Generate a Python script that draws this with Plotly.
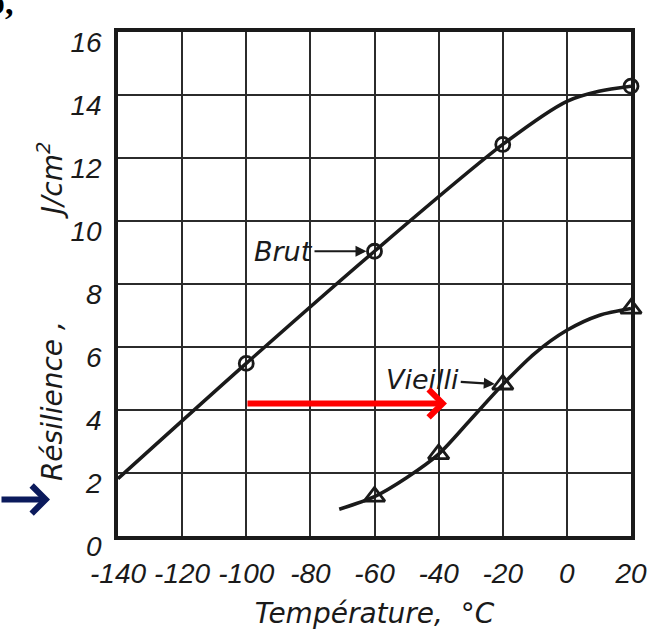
import plotly.graph_objects as go

# ---- data ----
brut_temp = [-140, -100, -60, -20, 0, 10, 20]
brut_res = [1.82, 5.48, 9.04, 12.43, 13.8, 14.12, 14.28]
brut_pts_temp = [-100, -60, -20, 20]
brut_pts_res = [5.48, 9.04, 12.43, 14.28]

vieilli_temp = [-71, -60, -50, -40, -30, -20, -10, 0, 10, 20]
vieilli_res = [0.85, 1.25, 1.85, 2.6, 3.7, 4.81, 5.8, 6.53, 7.0, 7.22]
vieilli_pts_temp = [-60, -40, -20, 20]
vieilli_pts_res = [1.25, 2.6, 4.81, 7.22]

x_tick_vals = [-140, -120, -100, -80, -60, -40, -20, 0, 20]
x_tick_text = ["-140", "-120", "-100", "-80", "-60", "-40", "-20", "0", "20"]
y_tick_vals = [0, 2, 4, 6, 8, 10, 12, 14, 16]
y_tick_text = ["0", "2", "4", "6", "8", "10", "12", "14", "16"]

INK = "#1a1a1a"
TICKFONT = dict(family="Liberation Sans", size=28, color=INK, style="italic")
TXTFONT = dict(family="DejaVu Sans", size=27, color=INK, style="italic")

fig = go.Figure()
fig.add_trace(go.Scatter(x=brut_temp, y=brut_res, mode="lines",
                         line=dict(color=INK, width=3.5, shape="spline", smoothing=0.8),
                         hoverinfo="skip"))
fig.add_trace(go.Scatter(x=brut_pts_temp, y=brut_pts_res, mode="markers", cliponaxis=False,
                         marker=dict(symbol="circle-open", size=14, color=INK, line=dict(width=2.8))))
fig.add_trace(go.Scatter(x=vieilli_temp, y=vieilli_res, mode="lines",
                         line=dict(color=INK, width=3.5, shape="spline", smoothing=0.8),
                         hoverinfo="skip"))
fig.add_trace(go.Scatter(x=vieilli_pts_temp, y=vieilli_pts_res, mode="markers", cliponaxis=False,
                         marker=dict(symbol="triangle-up-open", size=18, color=INK, line=dict(width=2.8))))

fig.update_layout(
    width=668, height=637,
    margin=dict(l=118, r=37, t=32, b=94),
    paper_bgcolor="white", plot_bgcolor="white",
    showlegend=False,
)
fig.update_xaxes(
    range=[-140, 20], tickvals=x_tick_vals, ticktext=x_tick_text,
    showgrid=True, gridcolor="#2b2b2b", gridwidth=1.6, zeroline=False,
    showline=True, linecolor=INK, linewidth=3.5, mirror=True, ticks="",
    tickfont=TICKFONT, ticklabelstandoff=10,
    title=dict(text="Température,  °C", font=dict(family="DejaVu Sans", size=28, color=INK, style="italic"),
               standoff=16),
)
fig.update_yaxes(
    range=[0, 16], tickvals=y_tick_vals, ticktext=y_tick_text,
    showgrid=True, gridcolor="#2b2b2b", gridwidth=1.6, zeroline=False,
    showline=True, linecolor=INK, linewidth=3.5, mirror=True, ticks="",
    tickfont=TICKFONT, ticklabelstandoff=7, ticklabelshift=10,
)

NB = "\u00a0"
annotations = [
    dict(x=-60, y=9.04, xref="x", yref="y", text="Brut", showarrow=True,
         ax=-91, ay=0, arrowhead=2, arrowsize=1, arrowwidth=2.2, arrowcolor=INK,
         standoff=8, font=TXTFONT),
    dict(x=-20, y=4.81, xref="x", yref="y", text="Vieilli", showarrow=True,
         ax=-80, ay=-5, arrowhead=2, arrowsize=1, arrowwidth=2.2, arrowcolor=INK,
         standoff=8, font=TXTFONT),
    dict(x=-37.4, y=4.21, xref="x", yref="y", text="", showarrow=True,
         ax=-201, ay=0, arrowhead=4, arrowsize=0.9, arrowwidth=6, arrowcolor="#ff0000"),
    dict(x=(50 - 118) / 513, y=(543 - 506) / 511, xref="paper", yref="paper", text="",
         showarrow=True, ax=-54, ay=0, arrowhead=4, arrowsize=0.9, arrowwidth=6,
         arrowcolor="#0b1a5c"),
    dict(x=(50 - 118) / 513, y=(543 - 315) / 511, xref="paper", yref="paper",
         xanchor="center", yanchor="middle",
         text="Résilience ," + NB * 12 + "J/cm<sup>2</sup>", textangle=-90, showarrow=False,
         font=dict(family="DejaVu Sans", size=28, color=INK, style="italic")),
    dict(x=(15 - 118) / 513, y=(543 - 2) / 511, xref="paper", yref="paper",
         text="<b>b,</b>", showarrow=False, xanchor="right", yanchor="middle",
         font=dict(family="Liberation Serif", size=34, color="black")),
]
fig.update_layout(annotations=annotations)

fig.write_html("out.html")
